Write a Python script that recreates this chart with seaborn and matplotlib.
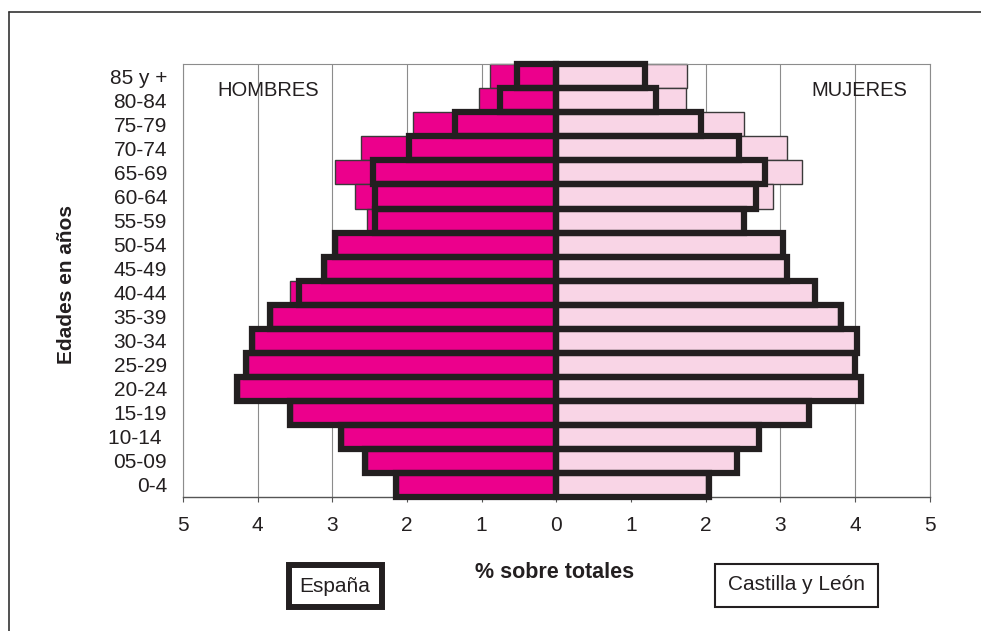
import matplotlib
matplotlib.use("Agg")
import matplotlib.pyplot as plt
import seaborn as sns
import numpy as np
from matplotlib.patches import Rectangle
from matplotlib.lines import Line2D

# datos de la piramide
edades = ["85 y +", "80-84", "75-79", "70-74", "65-69", "60-64", "55-59",
          "50-54", "45-49", "40-44", "35-39", "30-34", "25-29", "20-24",
          "15-19", "10-14 ", "05-09", "0-4"]

hombres_cyl = [0.89, 1.04, 1.92, 2.61, 2.97, 2.70, 2.54, 2.94, 3.08, 3.56,
               3.81, 4.05, 4.13, 4.25, 3.54, 2.85, 2.53, 2.12]
hombres_espana = [0.53, 0.75, 1.36, 1.97, 2.45, 2.43, 2.43, 2.96, 3.11, 3.44,
                  3.84, 4.08, 4.16, 4.28, 3.57, 2.88, 2.56, 2.15]
mujeres_cyl = [1.75, 1.74, 2.52, 3.09, 3.29, 2.91, 2.49, 3.01, 3.06, 3.44,
               3.78, 4.00, 3.97, 4.05, 3.36, 2.69, 2.39, 2.01]
mujeres_espana = [1.19, 1.33, 1.94, 2.45, 2.80, 2.67, 2.52, 3.04, 3.09, 3.47,
                  3.81, 4.03, 4.00, 4.08, 3.39, 2.72, 2.42, 2.04]

ticks_x = [-5, -4, -3, -2, -1, 0, 1, 2, 3, 4, 5]

negro = "#231f20"
magenta = "#ec008c"
rosa = "#f9d5e6"
gris = "#8c8c8c"

sns.set_style("white")
plt.rcParams["font.family"] = ["Liberation Sans", "DejaVu Sans"]
plt.rcParams["text.color"] = negro

fig = plt.figure(figsize=(9.81, 6.31), dpi=100)
ax = fig.add_axes([183 / 981, 1 - 497 / 631, 746.5 / 981, 432.7 / 631])

# Castilla y Leon: barras rellenas
sns.barplot(x=-np.array(hombres_cyl), y=edades, orient="h", color=magenta,
            saturation=1, width=1.0, edgecolor="#3a3a3a", linewidth=1,
            errorbar=None, ax=ax, zorder=2)
sns.barplot(x=np.array(mujeres_cyl), y=edades, orient="h", color=rosa,
            saturation=1, width=1.0, edgecolor="#3a3a3a", linewidth=1,
            errorbar=None, ax=ax, zorder=2)

# España: solo contorno grueso
sns.barplot(x=-np.array(hombres_espana), y=edades, orient="h", color=negro,
            fill=False, width=1.0, linewidth=4.5, errorbar=None, ax=ax, zorder=3)
sns.barplot(x=np.array(mujeres_espana), y=edades, orient="h", color=negro,
            fill=False, width=1.0, linewidth=4.5, errorbar=None, ax=ax, zorder=3)

for p in ax.patches:
    p.set_clip_on(False)

ax.set_xlim(-5, 5)
ax.set_xticks(ticks_x)
ax.set_xticklabels([str(abs(t)) for t in ticks_x])
ax.set_axisbelow(True)
ax.xaxis.grid(True, color=gris, linewidth=0.8)
ax.yaxis.grid(False)
ax.set_xlabel("")
ax.set_ylabel("")

for s in ["top", "right", "left"]:
    ax.spines[s].set_color(gris)
    ax.spines[s].set_linewidth(0.8)
ax.spines["bottom"].set_color("#555555")
ax.spines["bottom"].set_linewidth(1)

ax.tick_params(axis="x", direction="out", length=3.6, width=0.8,
               color="#555555", labelsize=15, labelcolor=negro, pad=10,
               bottom=True)
ax.tick_params(axis="y", length=0, labelsize=15, labelcolor=negro, pad=11.5)

ax.text(-3.86, 0.57, "HOMBRES", fontsize=14.5, ha="center", va="center")
ax.text(4.06, 0.57, "MUJERES", fontsize=14.5, ha="center", va="center")

fig.text(67 / 981, 1 - 285 / 631, "Edades en años", rotation=90,
         fontsize=15, fontweight="bold", ha="center", va="center")
fig.text(555 / 981, 1 - 572 / 631, "% sobre totales", fontsize=15.5,
         fontweight="bold", ha="center", va="center")

# cajas de leyenda
fig.add_artist(Rectangle((289 / 981, 1 - 607 / 631), 93 / 981, 42 / 631,
                         transform=fig.transFigure, facecolor="white",
                         edgecolor=negro, linewidth=4.3))
fig.text(335 / 981, 1 - 586 / 631, "España", fontsize=15, ha="center", va="center")
fig.add_artist(Rectangle((715 / 981, 1 - 607 / 631), 163 / 981, 43 / 631,
                         transform=fig.transFigure, facecolor="white",
                         edgecolor=negro, linewidth=1.5))
fig.text(796 / 981, 1 - 585 / 631, "Castilla y León", fontsize=15, ha="center", va="center")

# marco exterior
fig.add_artist(Line2D([8.5 / 981, 1], [1 - 11.5 / 631, 1 - 11.5 / 631],
                      transform=fig.transFigure, color="#333333", linewidth=1.2))
fig.add_artist(Line2D([8.5 / 981, 8.5 / 981], [1 - 11.5 / 631, 0],
                      transform=fig.transFigure, color="#333333", linewidth=1.2))

plt.savefig("out.png", dpi=100)
